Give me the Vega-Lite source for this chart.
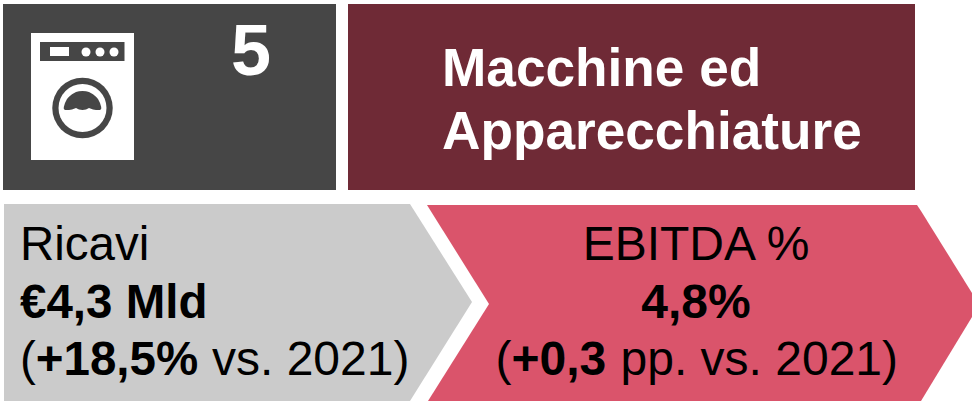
{
"$schema":"https://vega.github.io/schema/vega-lite/v6.json",
"autosize":{"type":"fit","contains":"padding"},
"width":972,"height":401,"padding":0,
"background":"white",
"view":{"stroke":null},
"config":{"view":{"stroke":null}},
"encoding":{
"x":{"field":"x","type":"quantitative","scale":{"domain":[0,972],"nice":false,"zero":false},"axis":null},
"y":{"field":"y","type":"quantitative","scale":{"domain":[401,0],"nice":false,"zero":false},"axis":null}
},
"layer":[
{"data":{"values":[{"x":3,"x2":336,"y":4,"y2":190}]},"mark":{"type":"rect","color":"#464646"},"encoding":{"x2":{"field":"x2"},"y2":{"field":"y2"}}},
{"data":{"values":[{"x":348,"x2":915,"y":4,"y2":190}]},"mark":{"type":"rect","color":"#6F2A36"},"encoding":{"x2":{"field":"x2"},"y2":{"field":"y2"}}},
{"data":{"values":[{"x":4,"y":204,"y2":401},{"x":410,"y":204,"y2":401},{"x":472,"y":302,"y2":302}]},"mark":{"type":"area","color":"#CBCBCB","opacity":1},"encoding":{"y2":{"field":"y2"}}},
{"data":{"values":[
{"piece":"a","x":427,"y":205,"y2":205},{"piece":"a","x":489,"y":205,"y2":304},
{"piece":"b","x":428,"y":401,"y2":401},{"piece":"b","x":489,"y":304,"y2":401},
{"piece":"c","x":489,"y":205,"y2":401},{"piece":"c","x":917,"y":205,"y2":401},{"piece":"c","x":921,"y":211,"y2":401},{"piece":"c","x":972,"y":293,"y2":317}
]},"mark":{"type":"area","color":"#DA546B","opacity":1},"encoding":{"y2":{"field":"y2"},"detail":{"field":"piece"}}},
{"data":{"values":[{"x":31,"x2":134,"y":33,"y2":160}]},"mark":{"type":"rect","color":"#FFFFFF"},"encoding":{"x2":{"field":"x2"},"y2":{"field":"y2"}}},
{"data":{"values":[{"x":40,"x2":124.5,"y":42,"y2":61}]},"mark":{"type":"rect","color":"#464646"},"encoding":{"x2":{"field":"x2"},"y2":{"field":"y2"}}},
{"data":{"values":[{"x":50,"x2":69,"y":47,"y2":56}]},"mark":{"type":"rect","color":"#FFFFFF"},"encoding":{"x2":{"field":"x2"},"y2":{"field":"y2"}}},
{"data":{"values":[{"x":86,"y":52},{"x":100,"y":52},{"x":114,"y":52}]},"mark":{"type":"circle","color":"#FFFFFF","opacity":1,"size":81}},
{"data":{"values":[{"x":82.5,"y":108}]},"mark":{"type":"circle","color":"#464646","opacity":1,"size":3660}},
{"data":{"values":[{"x":82.5,"y":108}]},"mark":{"type":"circle","color":"#FFFFFF","opacity":1,"size":2304}},
{"data":{"values":[
{"x":63.8,"y":107,"y2":109},{"x":65,"y":102.9,"y2":110},{"x":67,"y":99,"y2":110},{"x":69,"y":96.7,"y2":110},{"x":72,"y":94.2,"y2":109.5},{"x":76,"y":92.1,"y2":108},{"x":79,"y":91.3,"y2":109.5},{"x":82.5,"y":91,"y2":110},{"x":86,"y":91.3,"y2":109.5},{"x":89,"y":92.1,"y2":108},{"x":93,"y":94.2,"y2":109.5},{"x":96,"y":96.7,"y2":110},{"x":98,"y":99,"y2":110},{"x":100,"y":102.9,"y2":110},{"x":101.2,"y":107,"y2":109}
]},"mark":{"type":"area","color":"#464646","opacity":1},"encoding":{"y2":{"field":"y2"}}},
{"data":{"values":[{"x":251,"y":75,"label":"5"}]},"mark":{"type":"text","font":"Liberation Sans","fontWeight":"bold","fontSize":72,"color":"#FFFFFF","align":"center","baseline":"alphabetic"},"encoding":{"text":{"field":"label"}}},
{"data":{"values":[{"x":442,"y":85.5,"label":"Macchine ed"},{"x":442,"y":149,"label":"Apparecchiature"}]},"mark":{"type":"text","font":"Liberation Sans","fontWeight":"bold","fontSize":53.2,"color":"#FFFFFF","align":"left","baseline":"alphabetic"},"encoding":{"text":{"field":"label"}}},
{"data":{"values":[{"x":20,"y":260,"label":"Ricavi"},{"x":20,"y":375,"label":"("}]},"mark":{"type":"text","font":"Liberation Sans","fontSize":47.5,"color":"#000000","align":"left","baseline":"alphabetic"},"encoding":{"text":{"field":"label"}}},
{"data":{"values":[{"x":212,"y":375,"label":"vs. 2021)"}]},"mark":{"type":"text","font":"Liberation Sans","fontSize":48,"color":"#000000","align":"left","baseline":"alphabetic"},"encoding":{"text":{"field":"label"}}},
{"data":{"values":[{"x":35.8,"y":375,"label":"+18,5%"},{"x":20,"y":318,"label":"€4,3 Mld"}]},"mark":{"type":"text","font":"Liberation Sans","fontWeight":"bold","fontSize":47.5,"color":"#000000","align":"left","baseline":"alphabetic"},"encoding":{"text":{"field":"label"}}},
{"data":{"values":[{"x":495.5,"y":375,"label":"("},{"x":620.5,"y":375,"label":"pp. vs. 2021)"}]},"mark":{"type":"text","font":"Liberation Sans","fontSize":48,"color":"#000000","align":"left","baseline":"alphabetic"},"encoding":{"text":{"field":"label"}}},
{"data":{"values":[{"x":511.5,"y":375,"label":"+0,3"}]},"mark":{"type":"text","font":"Liberation Sans","fontWeight":"bold","fontSize":48,"color":"#000000","align":"left","baseline":"alphabetic"},"encoding":{"text":{"field":"label"}}},
{"data":{"values":[{"x":696,"y":260,"label":"EBITDA %"}]},"mark":{"type":"text","font":"Liberation Sans","fontSize":48,"color":"#000000","align":"center","baseline":"alphabetic"},"encoding":{"text":{"field":"label"}}},
{"data":{"values":[{"x":696,"y":318,"label":"4,8%"}]},"mark":{"type":"text","font":"Liberation Sans","fontWeight":"bold","fontSize":48,"color":"#000000","align":"center","baseline":"alphabetic"},"encoding":{"text":{"field":"label"}}}
]
}
